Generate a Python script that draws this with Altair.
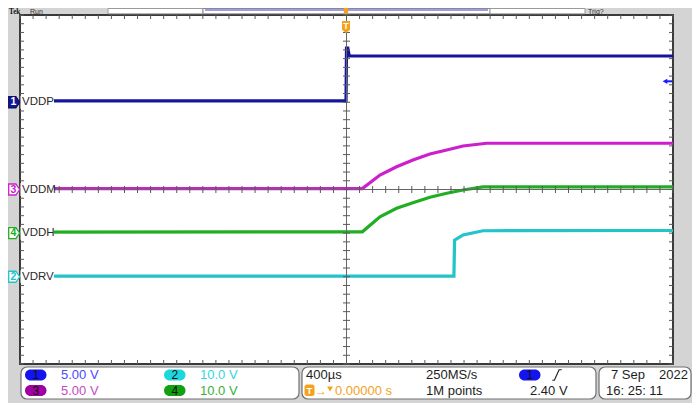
import altair as alt
import pandas as pd

# ---------------- data ----------------
# time in microseconds (400 us/div, trigger at centre), voltages in volts
ch_names = ["VDDP", "VDDM", "VDDH", "VDRV"]
ch_numbers = ["1", "3", "4", "2"]
ch_colors = ["#14149e", "#cc20cc", "#22ae22", "#22c4c8"]
ch_volts_per_div = [5.0, 5.0, 10.0, 10.0]
ch_offset_div = [2.0, 0.0, -1.0, -2.0]

vddp_t = [-2000, -3, 0, 8, 17, 2000]
vddp_v = [0.15, 0.15, 6.2, 6.2, 5.3, 5.3]
vddm_t = [-2000, 97, 205, 307, 407, 511, 614, 714, 859, 2000]
vddm_v = [0.1, 0.1, 1.66, 2.61, 3.38, 4.07, 4.53, 4.99, 5.3, 5.3]
vddh_t = [-2000, 97, 205, 307, 407, 511, 614, 714, 836, 2000]
vddh_v = [0.25, 0.3, 3.76, 5.69, 6.97, 8.21, 9.13, 9.89, 10.6, 10.6]
vdrv_t = [-2000, 658, 662, 680, 714, 836, 2000]
vdrv_v = [0.15, 0.15, 8.4, 8.8, 9.57, 10.55, 10.6]

trig_level_v = 2.40

# read-out panel texts
scale_nums = ["1", "2", "3", "4"]
scale_texts = ["5.00 V", "10.0 V", "5.00 V", "10.0 V"]
scale_pill_colors = ["#1414ee", "#1ed6de", "#a000a0", "#10a010"]
scale_text_colors = ["#4a4aff", "#30d8e0", "#c848c8", "#38b038"]
timebase = "400µs"
trig_pos = "0.00000 s"
sample_rate = "250MS/s"
record_len = "1M points"
trig_text = "2.40 V"
date_text = "7 Sep"
year_text = "2022"
time_text = "16: 25: 11"

# ---------------- geometry ----------------
W, H = 653, 349
T0, T1 = -2000, 2000
Y0, Y1 = -4, 4
DX = (T1 - T0) / W      # us per pixel
DY = (Y1 - Y0) / H      # div per pixel
FONT = "Liberation Sans"
ORANGE = "#f4a21c"
GRIDC = "#3a3a3a"


def PX(x):  # page x -> plot x
    return x - 20


def PY(y):  # page y -> plot y
    return y - 15


XS = alt.Scale(domain=[T0, T1], nice=False, zero=False)
YS = alt.Scale(domain=[Y0, Y1], nice=False, zero=False)
XAX = alt.Axis(values=[-1600, -1200, -800, -400, 0, 400, 800, 1200, 1600], grid=True,
               gridDash=[1, 7.72], gridColor=GRIDC, gridWidth=1.1, labels=False,
               ticks=False, domain=False, title=None)
YAX = alt.Axis(values=[-3, -2, -1, 0, 1, 2, 3], grid=True, gridDash=[1, 12.06],
               gridColor=GRIDC, gridWidth=1.1, labels=False, ticks=False,
               domain=False, title=None)

ONE = pd.DataFrame({"k": [0]})

# traces table
rows = []
for name, ts, vs, vpd, off in zip(ch_names, [vddp_t, vddm_t, vddh_t, vdrv_t],
                                  [vddp_v, vddm_v, vddh_v, vdrv_v],
                                  ch_volts_per_div, ch_offset_div):
    for i, (t, v) in enumerate(zip(ts, vs)):
        rows.append({"name": name, "t": t, "y": off + v / vpd, "i": i})
traces = pd.DataFrame(rows)

trace_layer = alt.Chart(traces).mark_line(strokeWidth=3.2).encode(
    x=alt.X("t:Q", scale=XS, axis=XAX),
    y=alt.Y("y:Q", scale=YS, axis=YAX),
    color=alt.Color("name:N", scale=alt.Scale(domain=ch_names, range=ch_colors), legend=None),
    order="i:Q",
)

# centre cross
cx = alt.Chart(pd.DataFrame({"t": [0], "a": [Y0], "b": [Y1]})).mark_rule(
    color="#666666", strokeWidth=1).encode(
    x=alt.X("t:Q", scale=XS, axis=None), y=alt.Y("a:Q", scale=YS, axis=None), y2="b:Q")
cy = alt.Chart(pd.DataFrame({"y": [0], "a": [T0], "b": [T1]})).mark_rule(
    color="#666666", strokeWidth=1).encode(
    y=alt.Y("y:Q", scale=YS, axis=None), x=alt.X("a:Q", scale=XS, axis=None), x2="b:Q")

# minor ticks on border and centre cross
minor_t = [T0 + 80 * k for k in range(51)]
minor_y = [Y0 + 0.2 * k for k in range(41)]
vt = []
for t in minor_t:
    vt.append({"t": t, "a": Y1, "b": Y1 - 4 * DY})
    vt.append({"t": t, "a": Y0, "b": Y0 + 4 * DY})
    vt.append({"t": t, "a": -3.5 * DY, "b": 3.5 * DY})
ht = []
for y in minor_y:
    ht.append({"y": y, "a": T0, "b": T0 + 4 * DX})
    ht.append({"y": y, "a": T1, "b": T1 - 4 * DX})
    ht.append({"y": y, "a": -3.5 * DX, "b": 3.5 * DX})
vticks = alt.Chart(pd.DataFrame(vt)).mark_rule(color="#5a5a5a", strokeWidth=1).encode(
    x=alt.X("t:Q", scale=XS, axis=None), y=alt.Y("a:Q", scale=YS, axis=None), y2="b:Q")
hticks = alt.Chart(pd.DataFrame(ht)).mark_rule(color="#5a5a5a", strokeWidth=1).encode(
    y=alt.Y("y:Q", scale=YS, axis=None), x=alt.X("a:Q", scale=XS, axis=None), x2="b:Q")

# channel labels / markers
lab = pd.DataFrame({
    "name": ch_names,
    "num": ch_numbers,
    "y": ch_offset_div,
    "ya": [o + 6.5 * DY for o in ch_offset_div],
    "yb": [o - 6.5 * DY for o in ch_offset_div],
    "fill": [ch_colors[0], "white", "white", "white"],
    "stroke": ["#101060", ch_colors[1], ch_colors[2], ch_colors[3]],
    "tcol": ["white", ch_colors[1], ch_colors[2], ch_colors[3]],
})
lab_bg = alt.Chart(lab).mark_rect(fill="white").encode(
    x=alt.value(0.5), x2=alt.value(34), y=alt.Y("ya:Q", scale=YS, axis=None), y2="yb:Q")
lab_txt = alt.Chart(lab).mark_text(align="left", baseline="middle", fontSize=11.5,
                                   font=FONT, color="#2a2a2a").encode(
    x=alt.value(2), y=alt.Y("y:Q", scale=YS, axis=None), text="name:N")
TAG = "M-1,-1 L0.3,-1 L1,0 L0.3,1 L-1,1 Z"
lab_tag = alt.Chart(lab).mark_point(shape=TAG, filled=True, size=121, strokeWidth=1.3,
                                    opacity=1).encode(
    x=alt.value(PX(14.2)), y=alt.Y("y:Q", scale=YS, axis=None),
    fill=alt.Fill("fill:N", scale=None), stroke=alt.Stroke("stroke:N", scale=None))
lab_num = alt.Chart(lab).mark_text(baseline="middle", align="center", fontSize=10.5,
                                   fontWeight="bold", font=FONT).encode(
    x=alt.value(PX(13.3)), y=alt.Y("y:Q", scale=YS, axis=None), text="num:N",
    color=alt.Color("tcol:N", scale=None))

# trigger level arrow at the right
trg = pd.DataFrame({"y": [ch_offset_div[0] + trig_level_v / ch_volts_per_div[0]]})
trg_head = alt.Chart(trg).mark_point(shape="triangle-left", filled=True, size=28,
                                     color="#1a1aff", opacity=1).encode(
    x=alt.value(PX(665)), y=alt.Y("y:Q", scale=YS, axis=None))
trg_tail = alt.Chart(trg).mark_rule(color="#1a1aff", strokeWidth=2).encode(
    x=alt.value(PX(665)), x2=alt.value(PX(672)), y=alt.Y("y:Q", scale=YS, axis=None))


# ---------------- decorations helpers ----------------
def text(s, x, y, color="#1e1e1e", size=13, align="left", weight="normal", font=FONT):
    return alt.Chart(ONE).mark_text(text=s, align=align, baseline="middle", fontSize=size,
                                    color=color, fontWeight=weight, font=font).encode(
        x=alt.value(PX(x)), y=alt.value(PY(y)))


def box(x0, x1, y0, y1, fill="white", stroke="#6e6e6e", r=0, sw=1.0):
    return alt.Chart(ONE).mark_rect(fill=fill, stroke=stroke, strokeWidth=sw,
                                    cornerRadius=r).encode(
        x=alt.value(PX(x0)), x2=alt.value(PX(x1)), y=alt.value(PY(y0)), y2=alt.value(PY(y1)))


def pill(x0, x1, yc, fill, h=11):
    return alt.Chart(ONE).mark_rect(fill=fill, cornerRadius=h / 2).encode(
        x=alt.value(PX(x0)), x2=alt.value(PX(x1)),
        y=alt.value(PY(yc - h / 2)), y2=alt.value(PY(yc + h / 2)))


def symbol(shape, x, y, size, fill=None, stroke=None, sw=1.0):
    kw = dict(shape=shape, size=size, strokeWidth=sw, opacity=1)
    if fill is not None:
        kw.update(filled=True, fill=fill)
    else:
        kw.update(filled=False)
    if stroke is not None:
        kw.update(stroke=stroke)
    return alt.Chart(ONE).mark_point(**kw).encode(x=alt.value(PX(x)), y=alt.value(PY(y)))


PENNANT = "M-0.67,-1 L0.67,-1 L0.67,0.45 L0,1 L-0.67,0.45 Z"

deco = []
# header bar (squeezed into the visible strip above the graticule)
HY = 12.0
deco += [
    box(108, 203, 8.5, 13.8, stroke="#9a9a9a"),
    box(203, 490, 8.5, 13.8, stroke="#8a8a8a"),
    box(490, 585, 8.5, 13.8, stroke="#9a9a9a"),
    alt.Chart(ONE).mark_rule(color="#3a3ad0", strokeWidth=1).encode(
        x=alt.value(PX(205)), x2=alt.value(PX(488)), y=alt.value(PY(10.0))),
    text("Tek", 9, HY, color="#111111", size=7.2, weight="bold", font="Liberation Serif"),
    text("Run", 30, HY, color="#333333", size=7),
    text("Trig?", 588, HY, color="#333333", size=7),
    symbol(PENNANT, 346, 11.2, 42, fill=ORANGE),
    symbol(PENNANT, 346, 27, 144, fill=ORANGE),
    text("T", 346, 26, color="white", size=9, align="center", weight="bold"),
]
# read-out panel
R1, R2 = 375, 390.5
deco += [
    box(21, 299, 367, 399, r=6, stroke="#707070", sw=1.2),
    box(302, 596, 367, 399, r=6, stroke="#707070", sw=1.2),
    box(599, 691, 367, 399, r=6, stroke="#707070", sw=1.2),
]
pill_x = [25, 164, 25, 164]
pill_y = [R1, R1, R2, R2]
txt_x = [61, 200, 61, 200]
for n, s, pc, tc, px_, py_, tx_ in zip(scale_nums, scale_texts, scale_pill_colors,
                                       scale_text_colors, pill_x, pill_y, txt_x):
    deco += [
        pill(px_, px_ + 21.5, py_, pc),
        text(n, px_ + 10.75, py_, color="#101010", size=12, align="center"),
        text(s, tx_, py_, color=tc, size=13),
    ]
deco += [
    text(timebase, 306, R1, size=13),
    box(305, 314, R2 - 5.5, R2 + 5, fill=ORANGE, stroke=ORANGE, r=1.5),
    text("T", 309.5, R2, color="white", size=9.5, align="center", weight="bold"),
    text("→", 315, R2, color=ORANGE, size=12),
    symbol("triangle-down", 330, R2 - 1.5, 34, fill=ORANGE),
    text(trig_pos, 335, R2, color=ORANGE, size=13),
    text(sample_rate, 426, R1, size=13),
    text(record_len, 426, R2, size=13),
    pill(519, 540.5, R1, "#1414ee"),
    text("1", 529.75, R1, color="#101010", size=12, align="center"),
    symbol("M-0.9,1 L-0.5,1 L0.4,-1 L0.9,-1", 557, R1, 110, stroke="#222222", sw=1.2),
    text(trig_text, 530, R2, size=13),
    text(date_text, 611, R1, size=13),
    text(year_text, 688, R1, size=13, align="right"),
    text(time_text, 606, R2, size=13),
]

layers = [trace_layer, cx, cy, vticks, hticks, lab_bg, lab_txt, lab_tag, lab_num,
          trg_head, trg_tail] + deco

chart = alt.layer(*layers).properties(
    width=W, height=H,
    autosize=alt.AutoSizeParams(type="none"),
    padding={"left": 12, "top": 7, "right": 19, "bottom": 39},
    background="#d4d4d4",
).configure_view(fill="white", stroke="#3a3a3a", strokeWidth=2)

chart.save("out.html", embed_options={"renderer": "svg", "actions": False})
